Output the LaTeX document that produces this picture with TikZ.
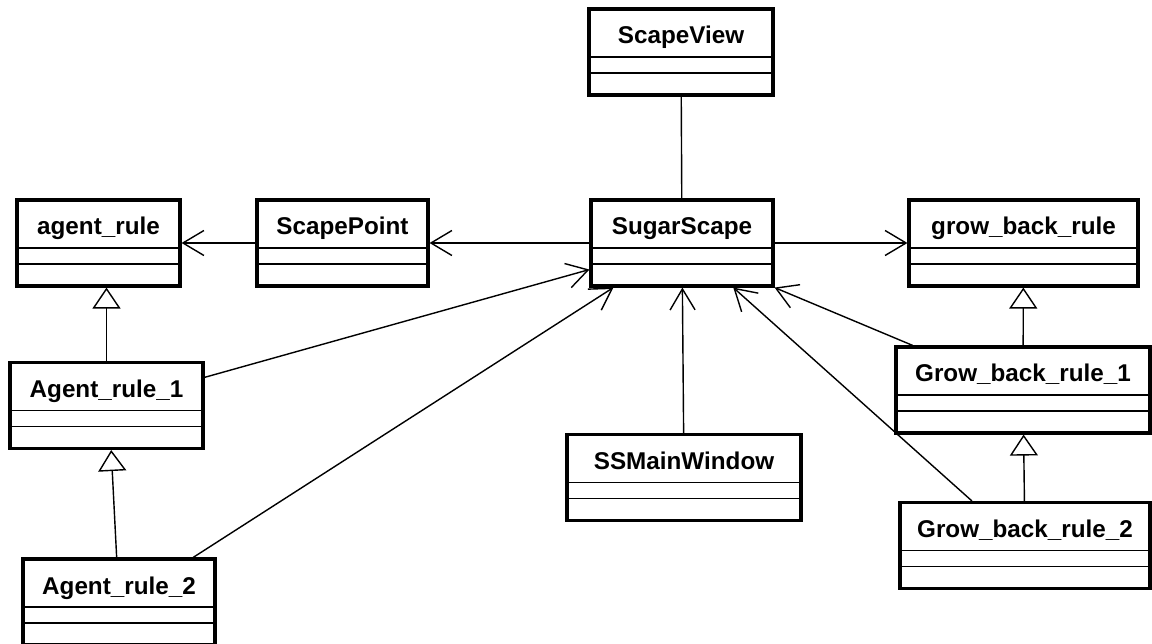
\documentclass[tikz,border=0pt]{standalone}
\usepackage{fontspec}
\setmainfont{Liberation Sans}
\usepackage{tikz}
\usetikzlibrary{arrows.meta}
\tikzset{>={Straight Barb[length=4.2mm, width=5mm]}}
\tikzset{
    umlclass/.style={draw, line width=1.8pt, inner xsep=0pt, inner ysep=0pt,
        text height=7mm, text depth=10.2mm,
        font=\fontsize{13.8}{16}\selectfont\bfseries,
        path picture={
            \draw[line width=.8pt]
                ([yshift=-9.6mm]path picture bounding box.north west) -- ([yshift=-9.6mm]path picture bounding box.north east)
                ([yshift=-12.8mm]path picture bounding box.north west) -- ([yshift=-12.8mm]path picture bounding box.north east);
        }},
    assoc/.style={->, line width=.8pt},
    inherit/.style={-{Triangle[open, length=4.2mm, width=5.6mm]}, line width=.8pt},
}

\begin{document}
\begin{tikzpicture}[x=0.02cm, y=-0.02cm]
    \clip (0, 0) rectangle (1152, 644);
    \node[umlclass, minimum width=3.68cm] (scapeview) at (681, 52) {ScapeView};
    \node[umlclass, minimum width=3.26cm] (agentrule) at (98.5, 243) {agent\_rule};
    \node[umlclass, minimum width=3.42cm] (scapepoint) at (342.5, 243) {ScapePoint};
    \node[umlclass, minimum width=3.64cm] (sugarscape) at (682, 243) {SugarScape};
    \node[umlclass, minimum width=4.58cm] (growbackrule) at (1023.5, 243) {grow\_back\_rule};
    \node[umlclass, minimum width=3.86cm] (agentrule1) at (106.5, 405.5) {Agent\_rule\_1};
    \node[umlclass, minimum width=3.84cm] (agentrule2) at (119, 602) {Agent\_rule\_2};
    \node[umlclass, minimum width=4.68cm] (ssmainwindow) at (684, 477.5) {SSMainWindow};
    \node[umlclass, minimum width=5.08cm] (growbackrule1) at (1023, 390) {Grow\_back\_rule\_1};
    \node[umlclass, minimum width=5.00cm] (growbackrule2) at (1025, 545.5) {Grow\_back\_rule\_2};

    % associations
    \draw[line width=.8pt] (scapeview) -- (sugarscape);
    \draw[assoc] (scapepoint) -- (agentrule);
    \draw[assoc] (sugarscape) -- (scapepoint);
    \draw[assoc] (sugarscape) -- (growbackrule);
    \draw[assoc] (agentrule1.16) -- (sugarscape.196);
    \draw[assoc] (agentrule2.31) -- (sugarscape.213);
    \draw[assoc] (ssmainwindow) -- (sugarscape);
    \draw[assoc] (growbackrule1.158) -- (sugarscape.south east);
    \draw[assoc] (growbackrule2.140) -- (sugarscape.319);

    % generalisations
    \draw[inherit] (agentrule1.north) -- (agentrule1.north |- agentrule.south);
    \draw[inherit] (agentrule2.93) -- (agentrule1.276);
    \draw[inherit] (growbackrule1) -- (growbackrule);
    \draw[inherit] (growbackrule2) -- (growbackrule1);
\end{tikzpicture}
\end{document}
